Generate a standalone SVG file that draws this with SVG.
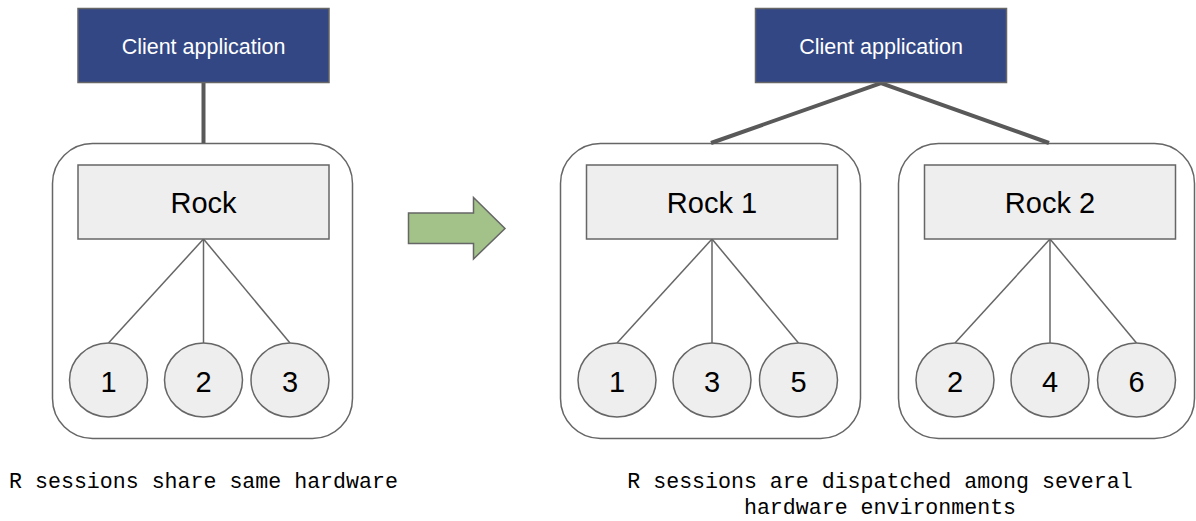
<svg xmlns="http://www.w3.org/2000/svg" width="1196" height="521" viewBox="0 0 1196 521">
<style>
.client{fill:#334784;stroke:#666;stroke-width:1.5}
.ctext{font-family:"Liberation Sans",Arial,sans-serif;font-size:21.5px;fill:#fff;text-anchor:middle}
.outer{fill:#fff;stroke:#666;stroke-width:1.5}
.rock{fill:#eee;stroke:#666;stroke-width:1.5}
.sess{fill:#eee;stroke:#666;stroke-width:1.5}
.label{font-family:"Liberation Sans",Arial,sans-serif;font-size:29px;fill:#000;text-anchor:middle}
.thick{stroke:#595959;stroke-width:4;fill:none}
.thin{stroke:#666;stroke-width:1.5;fill:none}
.cap{font-family:"Liberation Mono","Courier New",monospace;font-size:21.6px;fill:#000;text-anchor:middle}
</style>
<g id="host-left"><rect class="outer" x="52.5" y="143.5" width="300" height="295" rx="40"/></g>
<g id="host-right-1"><rect class="outer" x="560.5" y="143.5" width="300" height="295" rx="40"/></g>
<g id="host-right-2"><rect class="outer" x="898.5" y="143.5" width="296" height="295" rx="40"/></g>
<g id="connectors">
<line class="thick" x1="203.5" y1="83" x2="203.5" y2="143"/>
<polyline class="thick" points="711,143 881,83 1049,143"/>
<line class="thin" x1="203.5" y1="239" x2="108.5" y2="343"/>
<line class="thin" x1="203.5" y1="239" x2="203.5" y2="343"/>
<line class="thin" x1="203.5" y1="239" x2="290" y2="343"/>
<line class="thin" x1="712" y1="239" x2="617" y2="343"/>
<line class="thin" x1="712" y1="239" x2="712" y2="343"/>
<line class="thin" x1="712" y1="239" x2="798.5" y2="343"/>
<line class="thin" x1="1050" y1="239" x2="955" y2="343"/>
<line class="thin" x1="1050" y1="239" x2="1050" y2="343"/>
<line class="thin" x1="1050" y1="239" x2="1136.5" y2="343"/>
</g>
<g id="client-left"><rect class="client" x="78" y="8.5" width="251" height="74"/><text class="ctext" x="203.5" y="53.5">Client application</text></g>
<g id="client-right"><rect class="client" x="755.5" y="8.5" width="251" height="74"/><text class="ctext" x="881" y="53.5">Client application</text></g>
<g id="rock"><rect class="rock" x="78" y="165" width="251" height="74"/><text class="label" x="203.5" y="213">Rock</text></g>
<g id="rock1"><rect class="rock" x="586.5" y="165" width="251" height="74"/><text class="label" x="712" y="213">Rock 1</text></g>
<g id="rock2"><rect class="rock" x="924.5" y="165" width="251" height="74"/><text class="label" x="1050" y="213">Rock 2</text></g>
<g id="s-left-1"><ellipse class="sess" cx="108.5" cy="380" rx="39" ry="37"/><text class="label" x="108.5" y="391.5">1</text></g>
<g id="s-left-2"><ellipse class="sess" cx="203.5" cy="380" rx="39" ry="37"/><text class="label" x="203.5" y="391.5">2</text></g>
<g id="s-left-3"><ellipse class="sess" cx="290" cy="380" rx="39" ry="37"/><text class="label" x="290" y="391.5">3</text></g>
<g id="s-r1-1"><ellipse class="sess" cx="617" cy="380" rx="39" ry="37"/><text class="label" x="617" y="391.5">1</text></g>
<g id="s-r1-3"><ellipse class="sess" cx="712" cy="380" rx="39" ry="37"/><text class="label" x="712" y="391.5">3</text></g>
<g id="s-r1-5"><ellipse class="sess" cx="798.5" cy="380" rx="39" ry="37"/><text class="label" x="798.5" y="391.5">5</text></g>
<g id="s-r2-2"><ellipse class="sess" cx="955" cy="380" rx="39" ry="37"/><text class="label" x="955" y="391.5">2</text></g>
<g id="s-r2-4"><ellipse class="sess" cx="1050" cy="380" rx="39" ry="37"/><text class="label" x="1050" y="391.5">4</text></g>
<g id="s-r2-6"><ellipse class="sess" cx="1136.5" cy="380" rx="39" ry="37"/><text class="label" x="1136.5" y="391.5">6</text></g>
<g id="arrow"><polygon points="408.5,213 473.5,213 473.5,197.5 505,228.5 473.5,259 473.5,243.5 408.5,243.5" fill="#a2c289" stroke="#666" stroke-width="1.5"/></g>
<g id="captions">
<text class="cap" x="203.5" y="487.5">R sessions share same hardware</text>
<text class="cap" x="880" y="487.5">R sessions are dispatched among several</text>
<text class="cap" x="880" y="513.5">hardware environments</text>
</g>
</svg>
